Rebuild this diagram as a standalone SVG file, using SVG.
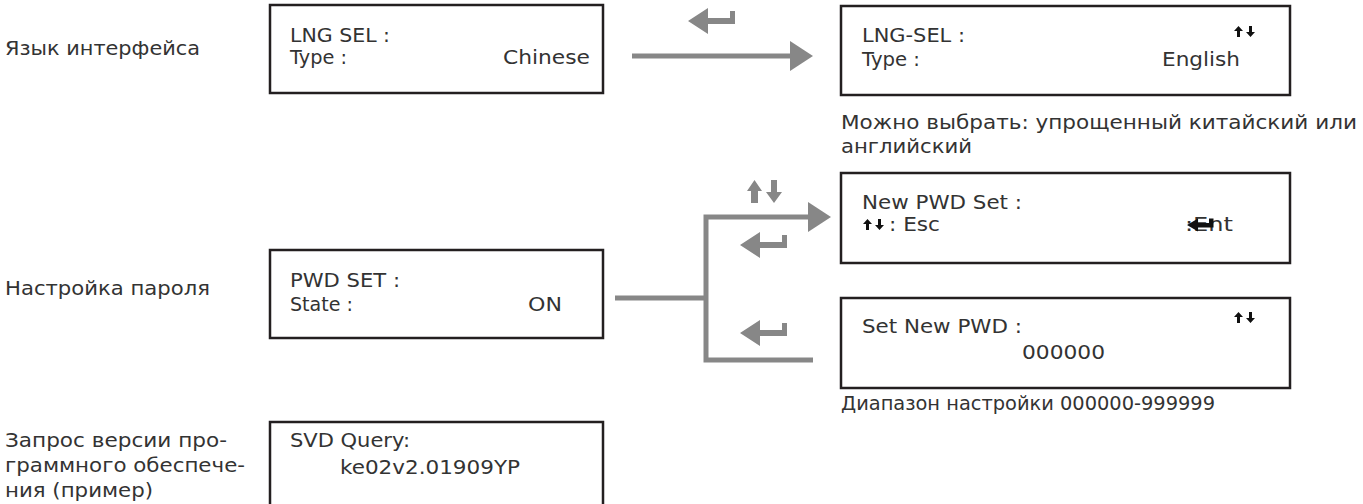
<svg xmlns="http://www.w3.org/2000/svg" width="1363" height="504" viewBox="0 0 1363 504">
<style>
.box{fill:#fff;stroke:#231f20;stroke-width:2.5}
.t{font-family:"DejaVu Sans","Liberation Sans",sans-serif;font-size:19px;fill:#333}
.c{fill:none;stroke:#878787;stroke-width:5}
.gi{fill:#878787}
.bi{fill:#111}
</style>
<defs>
<marker id="ah" markerUnits="userSpaceOnUse" markerWidth="24" markerHeight="30" refX="0" refY="15" orient="auto" viewBox="0 0 24 30"><path d="M0,0 L23,15 L0,30 Z" fill="#878787"/></marker>
<path id="ret" d="M0,0 L20,-13 L20,-3 L42,-3 L42,-10 L47,-10 L47,3 L20,3 L20,13 Z"/>
<path id="ud" d="M0,5 L4.5,0 L9,5 L6,5 L6,11 L3,11 L3,5 Z M15,0 L18,0 L18,6 L21,6 L16.5,11 L12,6 L15,6 Z"/>
</defs>

<text class="t" x="5" y="55" textLength="195" lengthAdjust="spacingAndGlyphs">Язык интерфейса</text>
<text class="t" x="5" y="295" textLength="205" lengthAdjust="spacingAndGlyphs">Настройка пароля</text>
<text class="t" x="5" y="447" textLength="222" lengthAdjust="spacingAndGlyphs">Запрос версии про-</text>
<text class="t" x="5" y="472" textLength="240" lengthAdjust="spacingAndGlyphs">граммного обеспече-</text>
<text class="t" x="5" y="497" textLength="148" lengthAdjust="spacingAndGlyphs">ния (пример)</text>

<g id="connectors">
<path class="c" d="M632,56 H790" marker-end="url(#ah)"/>
<path class="c" d="M615,298 H706"/>
<path class="c" d="M813,360 H706 V217 H808" marker-end="url(#ah)"/>
<use href="#ret" class="gi" x="688" y="21"/>
<use href="#ret" class="gi" x="740" y="245"/>
<use href="#ret" class="gi" x="740" y="333"/>
<g class="gi" transform="translate(747,180)">
<path d="M0,11 L7.5,0 L15,11 L11,11 L11,23 L4,23 L4,11 Z"/>
<path d="M24,0 L30,0 L30,12 L35,12 L27,23 L19,12 L24,12 Z"/>
</g>
</g>

<g id="lng-sel">
<rect class="box" x="270" y="5" width="333" height="88"/>
<text class="t" x="290" y="42" textLength="100" lengthAdjust="spacingAndGlyphs">LNG SEL :</text>
<text class="t" x="290" y="64" textLength="57" lengthAdjust="spacingAndGlyphs">Type :</text>
<text class="t" x="503" y="64" textLength="87" lengthAdjust="spacingAndGlyphs">Chinese</text>
</g>

<g id="lng-sel-english">
<rect class="box" x="841" y="6" width="449" height="89"/>
<text class="t" x="862" y="42" textLength="103" lengthAdjust="spacingAndGlyphs">LNG-SEL :</text>
<text class="t" x="862" y="66" textLength="58" lengthAdjust="spacingAndGlyphs">Type :</text>
<text class="t" x="1162" y="66" textLength="78" lengthAdjust="spacingAndGlyphs">English</text>
<use href="#ud" class="bi" x="1234" y="26"/>
</g>
<text class="t" x="841" y="129" textLength="516" lengthAdjust="spacingAndGlyphs">Можно выбрать: упрощенный китайский или</text>
<text class="t" x="841" y="153" textLength="131" lengthAdjust="spacingAndGlyphs">английский</text>

<g id="pwd-set">
<rect class="box" x="270" y="250" width="333" height="88"/>
<text class="t" x="290" y="287" textLength="110" lengthAdjust="spacingAndGlyphs">PWD SET :</text>
<text class="t" x="290" y="311" textLength="63" lengthAdjust="spacingAndGlyphs">State :</text>
<text class="t" x="528" y="311" textLength="34" lengthAdjust="spacingAndGlyphs">ON</text>
</g>

<g id="new-pwd-set">
<rect class="box" x="841" y="173" width="449" height="90"/>
<text class="t" x="862" y="209" textLength="160" lengthAdjust="spacingAndGlyphs">New PWD Set :</text>
<use href="#ud" class="bi" x="863" y="219"/>
<text class="t" x="889" y="231" textLength="51" lengthAdjust="spacingAndGlyphs">: Esc</text>
<text class="t" x="1185" y="231" textLength="48" lengthAdjust="spacingAndGlyphs">:Ent</text>
<path class="bi" d="M1187,225 L1198,218.5 L1198,223 L1209,223 L1209,218.5 L1213.5,218.5 L1213.5,227.5 L1198,227.5 L1198,231.5 Z"/>
</g>

<g id="set-new-pwd">
<rect class="box" x="841" y="298" width="449" height="90"/>
<text class="t" x="862" y="333" textLength="160" lengthAdjust="spacingAndGlyphs">Set New PWD :</text>
<text class="t" x="1022" y="359" textLength="83" lengthAdjust="spacingAndGlyphs">000000</text>
<use href="#ud" class="bi" x="1234" y="312"/>
</g>
<text class="t" x="841" y="410" textLength="374" lengthAdjust="spacingAndGlyphs">Диапазон настройки 000000-999999</text>

<g id="svd-query">
<rect class="box" x="270" y="422" width="333" height="95"/>
<text class="t" x="290" y="447" textLength="120" lengthAdjust="spacingAndGlyphs">SVD Query:</text>
<text class="t" x="340" y="474" textLength="180" lengthAdjust="spacingAndGlyphs">ke02v2.01909YP</text>
</g>
</svg>
